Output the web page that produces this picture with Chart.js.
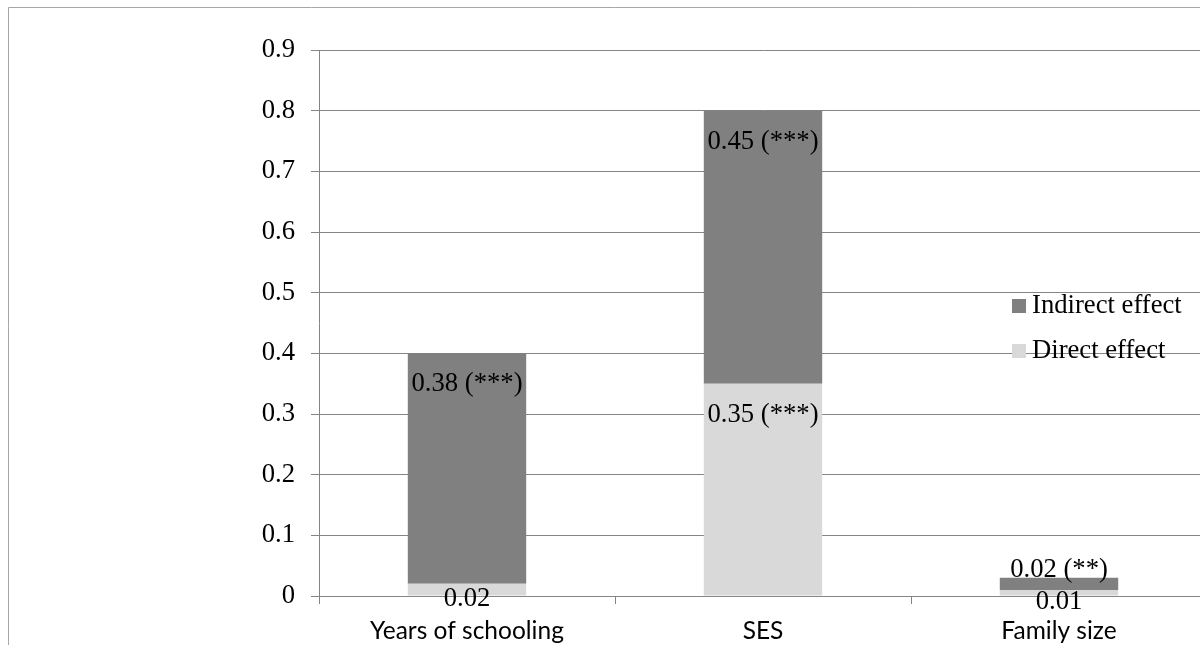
<!DOCTYPE html>
<html><head><meta charset="utf-8">
<script src="https://cdn.jsdelivr.net/npm/chart.js@4"></script>
<style>
html,body{margin:0;padding:0;overflow:hidden;background:#fff;width:1200px;height:645px}
#wrap{position:relative;width:1220px;height:645px}
canvas{display:block}
</style>
</head><body><div id="wrap"><canvas id="c" width="1220" height="645" style="width:1220px;height:645px"></canvas></div>
<script>
const categories = ['Years of schooling', 'SES', 'Family size'];
const seriesNames = ['Direct effect', 'Indirect effect'];
const directEffect = [0.02, 0.35, 0.01];
const indirectEffect = [0.38, 0.45, 0.02];
const directLabels = ['0.02', '0.35 (***)', '0.01'];
const indirectLabels = ['0.38 (***)', '0.45 (***)', '0.02 (**)'];
const yTickLabels = ['0', '0.1', '0.2', '0.3', '0.4', '0.5', '0.6', '0.7', '0.8', '0.9'];

const SERIF = '"Liberation Serif", "Times New Roman", serif';
const SERIF_SIZE = 26.67;
const GRID = '#858585';

const framePlugin = {
  id: 'frame',
  beforeDraw(chart) {
    const ctx = chart.ctx;
    ctx.save();
    ctx.strokeStyle = '#a6a6a6';
    ctx.lineWidth = 1;
    ctx.beginPath();
    ctx.moveTo(8.5, chart.height);
    ctx.lineTo(8.5, 7.5);
    ctx.lineTo(chart.width, 7.5);
    ctx.stroke();
    ctx.restore();
  }
};

const labelPlugin = {
  id: 'barLabels',
  afterDatasetsDraw(chart) {
    const ctx = chart.ctx;
    ctx.save();
    ctx.font = SERIF_SIZE + 'px ' + SERIF;
    ctx.fillStyle = '#000';
    ctx.textAlign = 'center';
    ctx.textBaseline = 'alphabetic';
    chart.data.datasets.forEach((ds, di) => {
      const meta = chart.getDatasetMeta(di);
      meta.data.forEach((bar, i) => {
        const top = Math.min(bar.y, bar.base);
        const bottom = Math.max(bar.y, bar.base);
        const h = bottom - top;
        let baseline;
        if (h > 40) baseline = top + 38;
        else if (di === 1) baseline = top - 1;
        else baseline = (top + bottom) / 2 + 16.5;
        ctx.fillText(ds.labelsText[i], bar.x, baseline);
      });
    });
    ctx.restore();
  }
};

const legendPlugin = {
  id: 'customLegend',
  afterDraw(chart) {
    const ctx = chart.ctx;
    ctx.save();
    ctx.font = SERIF_SIZE + 'px ' + SERIF;
    ctx.textAlign = 'left';
    ctx.textBaseline = 'alphabetic';
    const order = [1, 0];
    const baselines = [313, 358];
    order.forEach((di, k) => {
      const ds = chart.data.datasets[di];
      const b = baselines[k];
      ctx.fillStyle = ds.backgroundColor;
      ctx.fillRect(1012, b - 14, 14, 14);
      ctx.fillStyle = '#000';
      ctx.fillText(ds.label, 1032, b);
    });
    ctx.restore();
  }
};

new Chart(document.getElementById('c'), {
  type: 'bar',
  data: {
    labels: categories,
    datasets: [
      { label: seriesNames[0], data: directEffect, labelsText: directLabels, backgroundColor: '#d9d9d9', borderWidth: 0 },
      { label: seriesNames[1], data: indirectEffect, labelsText: indirectLabels, backgroundColor: '#808080', borderWidth: 0 }
    ]
  },
  options: {
    responsive: false,
    animation: false,
    devicePixelRatio: 1,
    layout: { padding: { top: 50, right: 13, bottom: 0, left: 0 } },
    datasets: { bar: { categoryPercentage: 1.0, barPercentage: 0.4 } },
    plugins: { legend: { display: false }, tooltip: { enabled: false } },
    scales: {
      x: {
        stacked: true,
        grid: { offset: true, drawOnChartArea: false, drawTicks: true, tickLength: 8, color: GRID, lineWidth: 1 },
        border: { color: GRID, width: 1 },
        ticks: { color: '#000', font: { family: 'Lato', size: 24.5 }, padding: 12, maxRotation: 0, autoSkip: false },
        afterFit(s) { s.height = 49; }
      },
      y: {
        stacked: true,
        min: 0, max: 0.9,
        grid: { color: GRID, lineWidth: 1, tickLength: 8 },
        border: { color: GRID, width: 1 },
        ticks: {
          stepSize: 0.1, color: '#000', padding: 16,
          font: { family: SERIF, size: SERIF_SIZE },
          callback: (v) => yTickLabels[Math.round(v * 10)]
        },
        afterFit(s) { s.width = 319; }
      }
    }
  },
  plugins: [framePlugin, labelPlugin, legendPlugin]
});
</script>
</body></html>
